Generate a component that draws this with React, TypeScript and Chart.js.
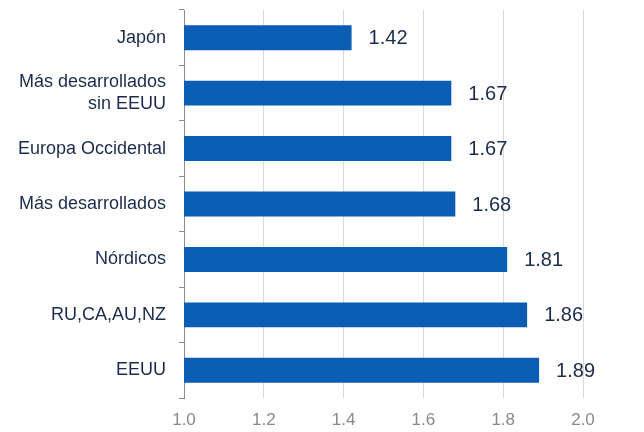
import React, { useEffect, useRef } from "react";
import { Chart, registerables } from "chart.js";

Chart.register(...registerables);

const categories: (string | string[])[] = [
  "Japón",
  ["Más desarrollados", "sin EEUU"],
  "Europa Occidental",
  "Más desarrollados",
  "Nórdicos",
  "RU,CA,AU,NZ",
  "EEUU",
];
const values = [1.42, 1.67, 1.67, 1.68, 1.81, 1.86, 1.89];
const xMin = 1.0;
const xMax = 2.0;
const xStep = 0.2;

const FONT = "'Liberation Sans', Arial, sans-serif";
const BAR_COLOR = "#0B5DB3";
const TEXT_COLOR = "#1C2B4B";

const valueLabels = {
  id: "valueLabels",
  afterDatasetsDraw(chart: any) {
    const ctx = chart.ctx;
    const meta = chart.getDatasetMeta(0);
    ctx.save();
    ctx.font = `20px ${FONT}`;
    ctx.fillStyle = TEXT_COLOR;
    ctx.textAlign = "left";
    ctx.textBaseline = "middle";
    meta.data.forEach((bar: any, i: number) => {
      ctx.fillText(values[i].toFixed(2), bar.x + 17, bar.y + 1);
    });
    ctx.restore();
  },
};

export default function App() {
  const ref = useRef<HTMLCanvasElement | null>(null);
  useEffect(() => {
    document.body.style.margin = "0";
    const chart = new Chart(ref.current!, {
      type: "bar",
      data: {
        labels: categories,
        datasets: [
          {
            data: values,
            backgroundColor: BAR_COLOR,
            borderWidth: 0,
            barPercentage: 0.45,
            categoryPercentage: 1,
          },
        ],
      },
      options: {
        indexAxis: "y",
        animation: false,
        responsive: false,
        maintainAspectRatio: false,
        layout: { padding: { top: 10, right: 61, bottom: 0, left: 0 } },
        plugins: { legend: { display: false }, tooltip: { enabled: false } },
        scales: {
          x: {
            min: xMin,
            max: xMax,
            ticks: {
              stepSize: xStep,
              color: "#8A8A8A",
              font: { family: FONT, size: 17 },
              padding: 12,
              callback: (v: any) => Number(v).toFixed(1),
            },
            grid: { color: "#D9D9D9", lineWidth: 1, drawTicks: false },
            border: { display: false },
            afterFit: (s: any) => {
              s.height = 34;
            },
          },
          y: {
            offset: true,
            ticks: {
              color: TEXT_COLOR,
              font: { family: FONT, size: 18, lineHeight: 1.22 },
              padding: 13,
            },
            grid: {
              offset: true,
              drawOnChartArea: false,
              drawTicks: true,
              tickLength: 5,
              color: "#8C8C8C",
            },
            border: { display: true, color: "#8C8C8C", width: 1 },
            afterFit: (s: any) => {
              s.width = 184;
              s.paddingTop = 0;
              s.paddingBottom = 0;
            },
          },
        },
      },
      plugins: [valueLabels],
    });
    return () => chart.destroy();
  }, []);
  return <canvas ref={ref} width={644} height={432} style={{ display: "block" }} />;
}
